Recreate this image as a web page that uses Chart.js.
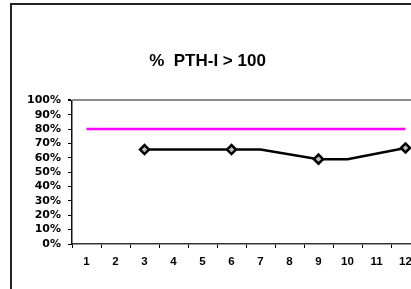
<!DOCTYPE html>
<html>
<head>
<meta charset="utf-8">
<script src="https://cdn.jsdelivr.net/npm/chart.js@4.4.0/dist/chart.umd.min.js"></script>
<style>
  html, body { margin: 0; padding: 0; background: #fff; }
  #wrap { position: relative; width: 411px; height: 289px; overflow: hidden; background: #fff; }
  #frame { position: absolute; left: 10px; top: 3px; width: 420px; height: 300px;
           border-left: 2px solid #222; border-top: 2px solid #222; pointer-events: none; }
  canvas { position: absolute; left: 0; top: 0; }
</style>
</head>
<body>
<div id="wrap">
  <canvas id="c" width="440" height="289"></canvas>
  <div id="frame"></div>
</div>
<script>
const titleText = "%  PTH-I > 100";
const categories = ["1","2","3","4","5","6","7","8","9","10","11","12"];
const targetValues = [80,80,80,80,80,80,80,80,80,80,80,80];
const pthValues = [null,null,65.8,null,null,65.8,65.8,null,59.1,59.1,null,66.9];
const markerIdx = [2,5,8,11];
const yTicks = [0,10,20,30,40,50,60,70,80,90,100];

new Chart(document.getElementById('c'), {
  type: 'line',
  data: {
    labels: categories,
    datasets: [
      {
        label: 'target',
        data: targetValues,
        borderColor: '#ff00ff',
        borderWidth: 2.5,
        pointRadius: 0,
        fill: false
      },
      {
        label: 'PTH',
        data: pthValues,
        spanGaps: true,
        borderColor: '#000',
        borderWidth: 2.5,
        pointStyle: 'rectRot',
        pointRadius: ctx => markerIdx.includes(ctx.dataIndex) ? 4.5 : 0,
        pointBackgroundColor: '#bbb',
        pointBorderColor: '#000',
        pointBorderWidth: 2.5,
        fill: false
      }
    ]
  },
  options: {
    responsive: false,
    animation: false,
    devicePixelRatio: 1,
    layout: { padding: { left: -5, right: 20, top: 0, bottom: 0 } },
    plugins: {
      legend: { display: false },
      tooltip: { enabled: false },
      title: {
        display: true,
        text: titleText,
        color: '#000',
        font: { family: 'Liberation Sans, Arial, sans-serif', size: 17, weight: 'bold' },
        padding: { top: 51, bottom: 29 }
      }
    },
    scales: {
      x: {
        offset: true,
        afterFit: s => { s.height = 45; },
        grid: { offset: true, color: 'rgba(0,0,0,0)', tickColor: '#000', tickLength: 4, drawOnChartArea: false },
        border: { display: true, color: '#333', width: 1.5 },
        ticks: {
          color: '#000',
          padding: 7,
          maxRotation: 0,
          autoSkip: false,
          font: { family: 'Liberation Sans, Arial, sans-serif', size: 11.5, weight: 'bold' }
        }
      },
      y: {
        min: 0,
        max: 100,
        afterFit: s => { s.width = 77; },
        afterBuildTicks: s => { s.ticks = yTicks.map(v => ({ value: v })); },
        grid: {
          color: ctx => ctx.tick && ctx.tick.value === 100 ? '#8c8c8c' : 'rgba(0,0,0,0)',
          lineWidth: ctx => ctx.tick && ctx.tick.value === 100 ? 2 : 1,
          tickColor: '#000',
          tickLength: 4
        },
        border: { display: true, color: '#111', width: 1.5 },
        ticks: {
          color: '#000',
          padding: 7,
          autoSkip: false,
          callback: v => v + '%',
          font: { family: 'DejaVu Sans, sans-serif', size: 11, weight: 'bold' }
        }
      }
    }
  }
});
</script>
</body>
</html>
